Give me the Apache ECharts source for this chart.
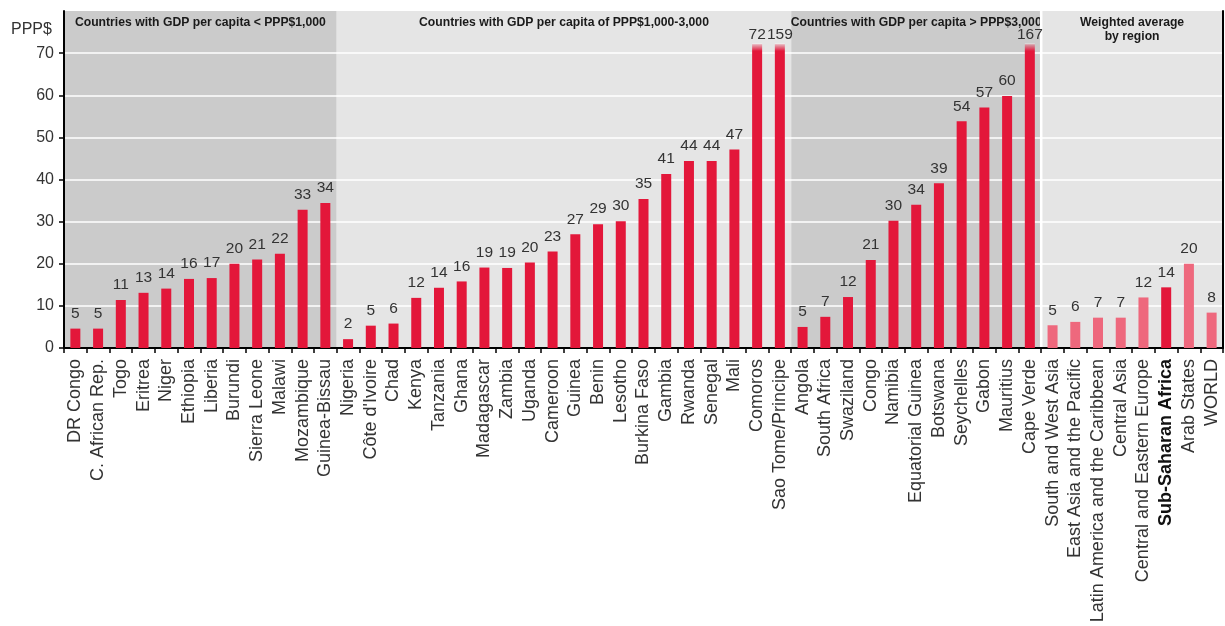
<!DOCTYPE html>
<html>
<head>
<meta charset="utf-8">
<script src="https://cdn.jsdelivr.net/npm/echarts@6/dist/echarts.min.js"></script>
<style>
  html, body { margin: 0; padding: 0; background: #fff; }
  #chart { width: 1225px; height: 626px; }
</style>
</head>
<body>
<div id="chart"></div>
<script>
// Cost per pupil-related expenditure, PPP$, grouped by GDP per capita band
const groupTitles = [
  'Countries with GDP per capita < PPP$1,000',
  'Countries with GDP per capita of PPP$1,000-3,000',
  'Countries with GDP per capita > PPP$3,000',
  'Weighted average\nby region'
];

const lowIncome = ['DR Congo', 'C. African Rep.', 'Togo', 'Eritrea', 'Niger', 'Ethiopia', 'Liberia',
  'Burundi', 'Sierra Leone', 'Malawi', 'Mozambique', 'Guinea-Bissau'];
const lowIncomeValues = [4.6, 4.6, 11.4, 13.1, 14.1, 16.4, 16.6, 20.0, 21.0, 22.4, 32.8, 34.4];

const midIncome = ['Nigeria', "Côte d'Ivoire", 'Chad', 'Kenya', 'Tanzania', 'Ghana', 'Madagascar',
  'Zambia', 'Uganda', 'Cameroon', 'Guinea', 'Benin', 'Lesotho', 'Burkina Faso', 'Gambia', 'Rwanda',
  'Senegal', 'Mali', 'Comoros', 'Sao Tome/Principe'];
const midIncomeValues = [2.1, 5.3, 5.8, 11.9, 14.3, 15.8, 19.1, 19.0, 20.3, 22.9, 27.0, 29.4, 30.1,
  35.4, 41.3, 44.4, 44.4, 47.1, 72.4, 159];

const highIncome = ['Angola', 'South Africa', 'Swaziland', 'Congo', 'Namibia', 'Equatorial Guinea',
  'Botswana', 'Seychelles', 'Gabon', 'Mauritius', 'Cape Verde'];
const highIncomeValues = [5.0, 7.4, 12.1, 20.9, 30.2, 34.0, 39.1, 53.8, 57.1, 59.8, 167];

const regions = ['South and West Asia', 'East Asia and the Pacific', 'Latin America and the Caribbean',
  'Central Asia', 'Central and Eastern Europe', 'Sub-Saharan Africa', 'Arab States', 'WORLD'];
const regionValues = [5.4, 6.2, 7.2, 7.2, 12.0, 14.4, 20.0, 8.4];

const yTicks = [0, 10, 20, 30, 40, 50, 60, 70];
const highlightRegion = 'Sub-Saharan Africa';

// ---- derived structures ----
const groups = [lowIncome, midIncome, highIncome, regions];
const groupValues = [lowIncomeValues, midIncomeValues, highIncomeValues, regionValues];
const categories = [].concat(...groups);

const RED = '#e3173a';
const PINK = '#ee687d';
const BAND_DARK = '#cbcbcb';
const BAND_LIGHT = '#e5e5e5';
const AXIS_TOP = 80;      // plotting area extends above the last labelled tick
const BAR_CAP = 72.3;     // bars running past the scale are cut here and faded
const FONT = "'Liberation Sans', Arial, Helvetica, sans-serif";

function fadeTop(color) {
  return new echarts.graphic.LinearGradient(0, 0, 0, 1, [
    { offset: 0, color: 'rgba(255,255,255,0.55)' },
    { offset: 0.006, color: echarts.color.modifyAlpha(color, 0.35) },
    { offset: 0.025, color: color },
    { offset: 1, color: color }
  ]);
}

const barData = [];
const bandData = [];
let start = 0;
groups.forEach((g, gi) => {
  g.forEach((name, i) => {
    const v = groupValues[gi][i];
    const isRegion = gi === 3;
    const color = isRegion && name !== highlightRegion ? PINK : RED;
    const truncated = v > yTicks[yTicks.length - 1];
    barData.push({
      value: Math.min(v, BAR_CAP),
      actual: v,
      itemStyle: { color: truncated ? fadeTop(color) : color },
      label: { distance: truncated ? 1 : 7 }
    });
  });
  bandData.push([start, start + g.length - 1, gi]);
  start += g.length;
});

const chart = echarts.init(document.getElementById('chart'), null, { renderer: 'canvas' });

chart.setOption({
  animation: false,
  backgroundColor: '#fff',
  title: {
    text: 'PPP$',
    left: 6,
    top: 17,
    textStyle: { fontFamily: FONT, fontSize: 16, fontWeight: 'normal', color: '#333' }
  },
  grid: {
    left: 64,
    right: 2,
    top: 11,
    bottom: 278,
    containLabel: false,
    outerBoundsMode: 'none'
  },
  xAxis: {
    type: 'category',
    data: categories,
    axisLine: { lineStyle: { color: '#000', width: 2 } },
    axisTick: { show: true, length: 5, lineStyle: { color: '#000', width: 1.5 } },
    axisLabel: {
      interval: 0,
      rotate: 90,
      margin: 11,
      fontFamily: FONT,
      fontSize: 18,
      color: '#333',
      formatter: (v) => (v === highlightRegion ? '{b|' + v + '}' : v),
      rich: { b: { fontFamily: FONT, fontSize: 18, fontWeight: 'bold', color: '#111' } }
    },
    splitLine: { show: false }
  },
  yAxis: [
    {
      type: 'value',
      min: 0,
      max: AXIS_TOP,
      interval: 10,
      axisLine: { show: true, lineStyle: { color: '#000', width: 2 } },
      axisTick: { show: true, length: 5, lineStyle: { color: '#000', width: 1.5 }, customValues: yTicks },
      axisLabel: {
        fontFamily: FONT,
        fontSize: 16,
        color: '#333',
        margin: 10,
        customValues: yTicks,
        formatter: (v) => (yTicks.indexOf(v) >= 0 ? String(v) : '')
      },
      splitLine: { show: true, lineStyle: { color: '#fff', width: 1.5 } }
    },
    {
      type: 'value',
      position: 'right',
      min: 0,
      max: AXIS_TOP,
      axisLine: { show: true, lineStyle: { color: '#000', width: 2 } },
      axisTick: { show: false },
      axisLabel: { show: false },
      splitLine: { show: false }
    }
  ],
  series: [
    {
      // shaded income bands with their headings
      type: 'custom',
      z: -1,
      silent: true,
      clip: false,
      encode: { x: [0, 1] },
      data: bandData,
      renderItem: (params, api) => {
        const s = api.value(0);
        const e = api.value(1);
        const gi = api.value(2);
        const bw = api.size([1, 0])[0];
        const cs = params.coordSys;
        const x0 = api.coord([s, 0])[0] - bw / 2;
        const x1 = api.coord([e, 0])[0] + bw / 2;
        const children = [
          {
            type: 'rect',
            shape: { x: x0, y: cs.y, width: x1 - x0, height: cs.height },
            style: { fill: gi % 2 === 0 ? BAND_DARK : BAND_LIGHT }
          },
          {
            type: 'text',
            style: {
              text: groupTitles[gi],
              x: (x0 + x1) / 2,
              y: cs.y + 5,
              align: 'center',
              verticalAlign: 'top',
              fontFamily: FONT,
              fontSize: 12.2,
              fontWeight: 'bold',
              lineHeight: 14,
              fill: '#1a1a1a'
            }
          }
        ];
        if (gi === groupTitles.length - 1) {
          children.push({
            type: 'line',
            shape: { x1: x0, y1: cs.y, x2: x0, y2: cs.y + cs.height },
            style: { stroke: '#fff', lineWidth: 2.5 }
          });
        }
        return { type: 'group', children };
      }
    },
    {
      type: 'bar',
      barWidth: 10,
      data: barData,
      label: {
        show: true,
        position: 'top',
        fontFamily: FONT,
        fontSize: 15.5,
        color: '#333',
        formatter: (p) => String(Math.round(p.data.actual))
      }
    }
  ]
});
</script>
</body>
</html>
